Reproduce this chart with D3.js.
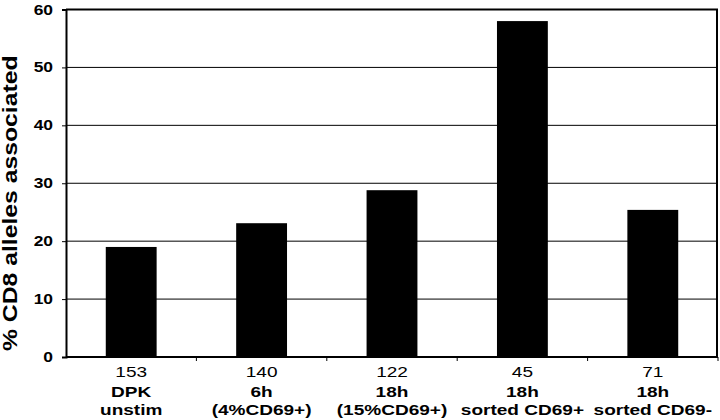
<!DOCTYPE html>
<html><head><meta charset="utf-8">
<script src="https://cdn.jsdelivr.net/npm/d3@7"></script>
<style>body{margin:0;background:#fff}svg{font-family:"Liberation Sans",Arial,sans-serif}</style>
</head><body><svg id="c" width="720" height="420"></svg>
<script>
const counts = ["153","140","122","45","71"];
const line2 = ["DPK","6h","18h","18h","18h"];
const line3 = ["unstim","(4%CD69+)","(15%CD69+)","sorted CD69+","sorted CD69-"];
const values = [19.0, 23.1, 28.8, 58.0, 25.4];
const yTicks = [0,10,20,30,40,50,60];
const yTitle = "% CD8 alleles associated";

const svg = d3.select("#c");
const m = {l:66, r:2, t:9.5, b:63};
const W = 720, H = 420;
const SX = 1.2, SX2 = 1.27;
const x = d3.scaleBand().domain(d3.range(values.length)).range([m.l, W-m.r]).paddingInner(0.61).paddingOuter(0.305);
const xb = d3.scaleBand().domain(d3.range(values.length)).range([m.l, W-m.r]);
const y = d3.scaleLinear().domain([0,60]).range([H-m.b, m.t]);

// gridlines
svg.append("g").selectAll("line").data(yTicks.filter(t=>t>0&&t<60)).join("line")
  .attr("x1", m.l).attr("x2", W-m.r).attr("y1", d=>y(d)).attr("y2", d=>y(d))
  .attr("stroke","#000").attr("stroke-width",1);
// frame top/right
svg.append("path").attr("d",`M${m.l},${y(60)}H${W-m.r-1}V${y(0)}`).attr("fill","none").attr("stroke","#000").attr("stroke-width",2);

// bars
svg.append("g").selectAll("rect").data(values).join("rect")
  .attr("x",(d,i)=>x(i)).attr("width",x.bandwidth())
  .attr("y",d=>y(d)).attr("height",d=>y(0)-y(d)).attr("fill","#000");

// y axis
const ya = svg.append("g").attr("transform",`translate(${m.l},0)`)
  .call(d3.axisLeft(y).tickValues(yTicks).tickSize(4).tickFormat(""));
ya.select(".domain").attr("stroke-width",2);
svg.append("g").selectAll("text").data(yTicks).join("text")
  .attr("transform",d=>`translate(53,${y(d)+5}) scale(${SX},1)`)
  .attr("text-anchor","end").attr("font-size",14.5).attr("font-weight","bold").text(d=>d);

// x axis
const xa = svg.append("g").attr("transform",`translate(0,${y(0)})`);
xa.append("line").attr("x1",m.l).attr("x2",W-m.r).attr("stroke","#000").attr("stroke-width",2);
xa.selectAll(".tk").data(d3.range(1,values.length+1)).join("line").attr("class","tk")
  .attr("x1",i=>m.l+i*xb.bandwidth()).attr("x2",i=>m.l+i*xb.bandwidth()).attr("y1",0).attr("y2",4).attr("stroke","#000");

const cx = i => xb(i)+xb.bandwidth()/2;
const lg = svg.append("g");
lg.selectAll(".c").data(counts).join("text").attr("class","c")
  .attr("transform",(d,i)=>`translate(${cx(i)},377) scale(${SX2},1)`)
  .attr("text-anchor","middle").attr("font-size",15).text(d=>d);
lg.selectAll(".l2").data(line2).join("text").attr("class","l2")
  .attr("transform",(d,i)=>`translate(${cx(i)},397) scale(${SX2},1)`)
  .attr("text-anchor","middle").attr("font-size",15).attr("font-weight","bold").text(d=>d);
lg.selectAll(".l3").data(line3).join("text").attr("class","l3")
  .attr("transform",(d,i)=>`translate(${cx(i)},414.5) scale(${SX2},1)`)
  .attr("text-anchor","middle").attr("font-size",15).attr("font-weight","bold").text(d=>d);

svg.append("text").attr("transform",`translate(17,${(y(0)+y(60))/2+20}) rotate(-90) scale(${SX2},1)`)
  .attr("text-anchor","middle").attr("font-size",19.5).attr("font-weight","bold").text(yTitle);
</script></body></html>
